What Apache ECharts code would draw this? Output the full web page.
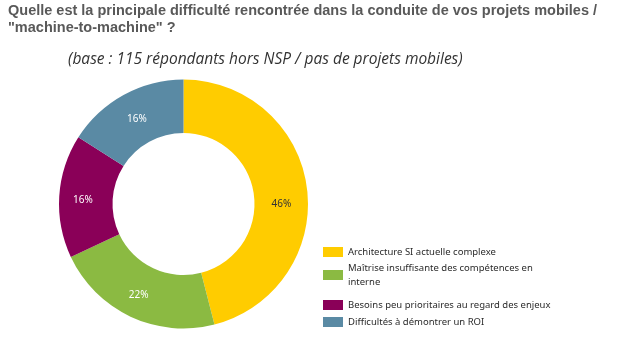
<!DOCTYPE html>
<html>
<head>
<meta charset="utf-8">
<script src="https://cdn.jsdelivr.net/npm/echarts@6/dist/echarts.min.js"></script>
<style>
  html, body { margin: 0; padding: 0; background: #ffffff; }
  #chart { width: 620px; height: 339px; }
</style>
</head>
<body>
<div id="chart"></div>
<script>
// Survey answers: main difficulty in mobile / M2M projects (share of respondents, %)
const categories = [
  'Architecture SI actuelle complexe',
  'Maîtrise insuffisante des compétences en\ninterne',
  'Besoins peu prioritaires au regard des enjeux',
  'Difficultés à démontrer un ROI'
];
const shares = [46, 22, 16, 16];
const palette = ['#FFCC00', '#8BBA42', '#8A0058', '#5A8AA4'];
const labelColors = ['#333333', '#ffffff', '#ffffff', '#ffffff'];
const labelOffsets = [[-2, 13], [-2, 0], [0, 2], [2, 3]];

// Legend rows: top edge of each colour swatch
const swatchTops = [247, 265, 300, 317];
const LINE_H = 14;

const chart = echarts.init(document.getElementById('chart'), null, { renderer: 'canvas' });

const legends = categories.map((name, i) => {
  const lines = name.split('\n').length;
  // a negative top padding keeps a wrapped label's first line level with its swatch
  return {
    data: [name],
    left: 323,
    top: swatchTops[i] + 5 - LINE_H / 2,
    itemWidth: 20,
    itemHeight: 10,
    itemGap: 5,
    padding: 0,
    selectedMode: false,
    icon: 'rect',
    textStyle: {
      fontFamily: 'Noto Sans',
      fontSize: 9.5,
      color: '#2a2a2a',
      lineHeight: LINE_H,
      padding: [-(lines - 1) * LINE_H, 0, 0, 0]
    }
  };
});

chart.setOption({
  backgroundColor: '#ffffff',
  animation: false,
  color: palette,
  title: [
    {
      text: 'Quelle est la principale difficulté rencontrée dans la conduite de vos projets mobiles /\n"machine-to-machine" ?',
      left: 8,
      top: 2,
      padding: 0,
      textStyle: {
        fontFamily: 'Liberation Sans',
        fontWeight: 'bold',
        fontSize: 14.5,
        lineHeight: 17,
        color: '#595959'
      }
    },
    {
      text: '(base : 115 répondants hors NSP / pas de projets mobiles)',
      left: 68,
      top: 52,
      padding: 0,
      textStyle: {
        fontFamily: 'Open Sans',
        fontStyle: 'italic',
        fontWeight: 'normal',
        fontSize: 15.5,
        color: '#333333'
      }
    }
  ],
  legend: legends,
  series: [{
    type: 'pie',
    center: [183.5, 204],
    radius: [71, 124.5],
    startAngle: 90,
    clockwise: true,
    avoidLabelOverlap: false,
    label: {
      show: true,
      position: 'inside',
      formatter: '{c}%',
      fontFamily: 'Noto Sans',
      fontSize: 10,
      color: '#ffffff'
    },
    labelLine: { show: false },
    emphasis: { disabled: true },
    itemStyle: { borderWidth: 0 },
    data: categories.map((name, i) => ({
      name: name,
      value: shares[i],
      label: { color: labelColors[i], offset: labelOffsets[i] }
    }))
  }]
});
</script>
</body>
</html>
